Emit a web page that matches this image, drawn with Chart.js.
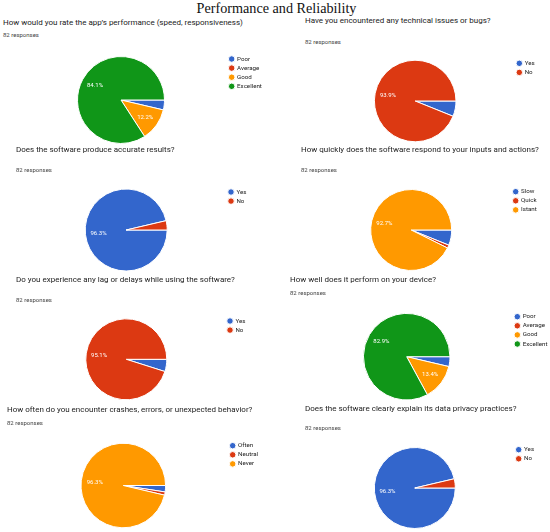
<!DOCTYPE html>
<html>
<head>
<meta charset="utf-8">
<title>Performance and Reliability</title>
<script src="https://cdn.jsdelivr.net/npm/chart.js@4.4.1/dist/chart.umd.min.js"></script>
<style>
  html, body { margin: 0; padding: 0; background: #fff; }
  #page { position: relative; width: 550px; height: 532px; overflow: hidden; font-family: Roboto, Arial, sans-serif; }
  .title { position: absolute; left: 0; width: 553px; top: -0.5px; text-align: center; font-family: "Liberation Serif", serif; font-size: 14.2px; line-height: 16px; color: #111; }
  .q { position: absolute; font-size: 8px; line-height: 8px; color: #222; white-space: nowrap; }
  .resp { position: absolute; font-size: 6px; line-height: 6px; color: #444; white-space: nowrap; }
  .box { position: absolute; }
</style>
</head>
<body>
<div id="page"></div>
<script>
// ---- data ----
const pageTitle = 'Performance and Reliability';
const questions = [
    'How would you rate the app\u2019s performance (speed, responsiveness)',
    'Have you encountered any technical issues or bugs?',
    'Does the software produce accurate results?',
    'How quickly does the software respond to your inputs and actions?',
    'Do you experience any lag or delays while using the software?',
    'How well does it perform on your device?',
    'How often do you encounter crashes, errors, or unexpected behavior?',
    'Does the software clearly explain its data privacy practices?'
];
const responseCount = 82;

const ratingLabels = ['Poor', 'Average', 'Good', 'Excellent'];
const yesNoLabels = ['Yes', 'No'];
const speedLabels = ['Slow', 'Quick', 'Istant'];
const crashLabels = ['Often', 'Neutral', 'Never'];

const performanceCounts = [3, 0, 10, 69];
const bugsCounts = [5, 77];
const accuracyCounts = [79, 3];
const speedCounts = [5, 1, 76];
const lagCounts = [4, 78];
const deviceCounts = [3, 0, 11, 68];
const crashCounts = [2, 1, 79];
const privacyCounts = [79, 3];

const sliceColors = ['#3366cc', '#dc3912', '#ff9900', '#109618'];

const charts = [
    { labels: ratingLabels, counts: performanceCounts },
    { labels: yesNoLabels, counts: bugsCounts },
    { labels: yesNoLabels, counts: accuracyCounts },
    { labels: speedLabels, counts: speedCounts },
    { labels: yesNoLabels, counts: lagCounts },
    { labels: ratingLabels, counts: deviceCounts },
    { labels: crashLabels, counts: crashCounts },
    { labels: yesNoLabels, counts: privacyCounts }
];

// where each block sits on the page (question, "responses", pie centre/radius, first legend dot)
const layout = [
    { qx: 3,   qy: 23,    rx: 3,   ry: 35.3,  cx: 121,   cy: 100,   r: 43.5, lx: 231.7, ly: 59 },
    { qx: 305, qy: 20.5,  rx: 305, ry: 42,    cx: 415.2, cy: 101,   r: 40.8, lx: 519.3, ly: 63.3 },
    { qx: 16,  qy: 149.5, rx: 16,  ry: 170,   cx: 126.2, cy: 230,   r: 41,   lx: 231,   ly: 192 },
    { qx: 301, qy: 150,   rx: 301, ry: 170,   cx: 411.2, cy: 230,   r: 40.5, lx: 515.7, ly: 191.7 },
    { qx: 16,  qy: 280,   rx: 16,  ry: 299.7, cx: 126.3, cy: 359.3, r: 40.5, lx: 230,   ly: 321 },
    { qx: 290, qy: 280,   rx: 290, ry: 293.3, cx: 406.7, cy: 356.7, r: 43.3, lx: 517.3, ly: 316.7 },
    { qx: 7,   qy: 410,   rx: 7,   ry: 422.7, cx: 123.3, cy: 485.5, r: 42.3, lx: 232.7, ly: 445.7 },
    { qx: 305, qy: 409,   rx: 305, ry: 428.3, cx: 414.8, cy: 488,   r: 40.5, lx: 518.7, ly: 449.7 }
];

const FONT = 'Roboto, Arial, sans-serif';
const LEGEND_FS = 6.2;
const LEGEND_BOX = 4.6;
const LEGEND_PAD = 2.9;

// white percentage text inside the bigger slices
const pctLabels = {
    id: 'pctLabels',
    afterDatasetsDraw(chart) {
        const ctx = chart.ctx;
        const values = chart.data.datasets[0].data;
        const total = values.reduce((a, b) => a + b, 0);
        chart.getDatasetMeta(0).data.forEach((arc, i) => {
            const share = values[i] / total;
            if (share < 0.1) return;
            const mid = (arc.startAngle + arc.endAngle) / 2;
            const d = arc.outerRadius * 0.68;
            ctx.save();
            ctx.fillStyle = '#fff';
            ctx.font = '6px ' + FONT;
            ctx.textAlign = 'center';
            ctx.textBaseline = 'middle';
            ctx.fillText((share * 100).toFixed(1) + '%', arc.x + Math.cos(mid) * d, arc.y + Math.sin(mid) * d);
            ctx.restore();
        });
    }
};

const page = document.getElementById('page');
const titleEl = document.createElement('div');
titleEl.className = 'title';
titleEl.textContent = pageTitle;
page.appendChild(titleEl);

const measure = document.createElement('canvas').getContext('2d');
measure.font = LEGEND_FS + 'px ' + FONT;

function addText(cls, text, x, y, half) {
    const el = document.createElement('div');
    el.className = cls;
    el.textContent = text;
    el.style.left = x + 'px';
    el.style.top = (y - half) + 'px';
    page.appendChild(el);
}

charts.forEach((c, k) => {
    const p = layout[k];
    addText('q', questions[k], p.qx, p.qy, 3.9);
    addText('resp', responseCount + ' responses', p.rx, p.ry, 2.9);

    // chart area is built so the pie sits at (cx, cy) and the legend starts at (lx, ly)
    const legendLeft = p.lx - LEGEND_BOX / 2 - LEGEND_PAD;
    const top = p.ly - LEGEND_FS / 2 - LEGEND_PAD;
    const left = 2 * p.cx - legendLeft;
    const bottom = 2 * p.cy - top;
    const textW = Math.max(...c.labels.map(t => measure.measureText(t).width));
    // vertical legends get 10px extra width from Chart.js
    const lw = LEGEND_PAD + LEGEND_BOX + LEGEND_FS / 2 + textW + 10;
    const x0 = Math.floor(left), y0 = Math.floor(top);
    const w = Math.ceil(legendLeft - x0 + lw) + 2;
    const h = Math.ceil(bottom - y0) + 1;

    const box = document.createElement('div');
    box.className = 'box';
    box.style.left = x0 + 'px';
    box.style.top = y0 + 'px';
    box.style.width = w + 'px';
    box.style.height = h + 'px';
    const canvas = document.createElement('canvas');
    box.appendChild(canvas);
    page.appendChild(box);

    new Chart(canvas, {
        type: 'pie',
        data: {
            labels: c.labels,
            datasets: [{
                data: c.counts,
                backgroundColor: sliceColors.slice(0, c.counts.length),
                borderColor: '#fff',
                borderWidth: 1
            }]
        },
        options: {
            responsive: true,
            maintainAspectRatio: false,
            animation: false,
            events: [],
            rotation: 90,
            radius: p.r,
            layout: {
                padding: {
                    left: left - x0,
                    top: top - y0,
                    right: w - (legendLeft - x0) - lw,
                    bottom: h - (bottom - y0)
                }
            },
            plugins: {
                tooltip: { enabled: false },
                legend: {
                    position: 'right',
                    align: 'start',
                    labels: {
                        usePointStyle: true,
                        pointStyle: 'circle',
                        boxWidth: LEGEND_BOX,
                        boxHeight: LEGEND_BOX,
                        padding: LEGEND_PAD,
                        color: '#222',
                        font: { family: FONT, size: LEGEND_FS }
                    }
                }
            }
        },
        plugins: [pctLabels]
    });
});
</script>
</body>
</html>
